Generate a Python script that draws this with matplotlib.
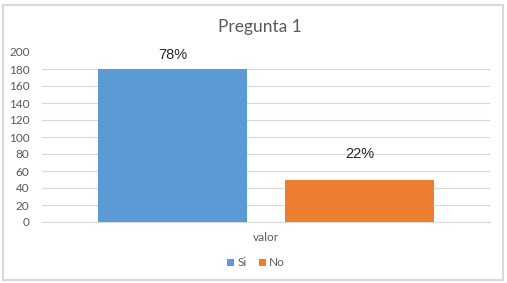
import matplotlib
matplotlib.use("Agg")
import matplotlib.pyplot as plt
from matplotlib.patches import Rectangle

title = "Pregunta 1"
category = "valor"
series = ["Si", "No"]
values = [180, 50]
labels = ["78%", "22%"]
colors = ["#5b9bd5", "#ed7d31"]
yticks = [0, 20, 40, 60, 80, 100, 120, 140, 160, 180, 200]

W, H = 507, 283
fig = plt.figure(figsize=(W / 100, H / 100), dpi=100)
ax = fig.add_axes([42 / W, 1 - 222 / H, (490 - 42) / W, (222 - 52) / H])

font = ["Lato", "DejaVu Sans"]
gray = "#595959"

width = 0.333
offsets = [-0.2087, 0.2087]
label_pts = [10, 18]
for i, (s, v) in enumerate(zip(series, values)):
    ax.bar(offsets[i], v, width=width, color=colors[i], label=s, zorder=3)
    ax.annotate(labels[i], (offsets[i], v), xytext=(0, label_pts[i]),
                textcoords="offset points", ha="center", va="center",
                fontsize=10.5, family=["Liberation Sans"], color="#262626")

ax.set_xlim(-0.5, 0.5)
ax.set_ylim(0, 200)
ax.set_yticks(yticks)
ax.set_yticklabels([str(t) for t in yticks], family=font, fontsize=8.5, color=gray)
ax.set_xticks([0])
ax.set_xticklabels([category], family=font, fontsize=8.5, color=gray)
ax.tick_params(axis="y", length=0, pad=9)
ax.tick_params(axis="x", length=0, pad=7)
ax.yaxis.grid(True, color="#d9d9d9", linewidth=0.8, zorder=0)
ax.get_ygridlines()[-1].set_visible(False)
ax.set_axisbelow(True)
for sp in ["top", "right", "left"]:
    ax.spines[sp].set_visible(False)
ax.spines["bottom"].set_color("#d9d9d9")
ax.spines["bottom"].set_linewidth(0.8)

fig.text(260 / W, 1 - 27 / H, title, ha="center", va="center",
         family=font, fontsize=12.5, color=gray)

leg = fig.legend(loc="center", bbox_to_anchor=(256 / W, 1 - 263 / H), ncol=2,
                 frameon=False, prop={"family": font, "size": 8.5},
                 handlelength=0.6, handleheight=0.6, handletextpad=0.3,
                 columnspacing=1.0)
for t in leg.get_texts():
    t.set_color(gray)

fig.patches.append(Rectangle((2.5 / W, 1 - 280 / H), (503 - 2.5) / W, (280 - 5) / H,
                             transform=fig.transFigure, fill=False,
                             edgecolor="#d9d9d9", linewidth=1.5))

fig.savefig("out.png", dpi=100)
